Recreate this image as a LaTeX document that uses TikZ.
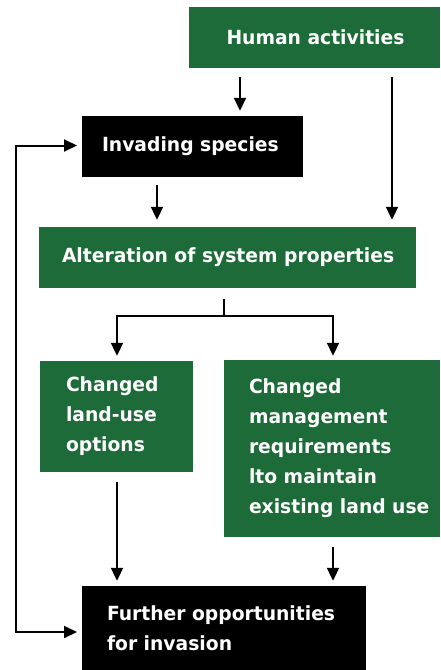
\documentclass[tikz,border=0pt]{standalone}
\usepackage{fontspec}
\setmainfont{DejaVu Sans}[FakeStretch=0.96]
\usetikzlibrary{arrows.meta}
\definecolor{boxgreen}{HTML}{1C6B38}
\tikzset{
  gbox/.style={fill=boxgreen, draw=none, inner sep=0pt, rectangle},
  kbox/.style={fill=black, draw=none, inner sep=0pt, rectangle},
  txt/.style={text=white, font=\fontsize{19.5}{30}\selectfont\bfseries, align=left, inner sep=0pt, anchor=west},
  arr/.style={line width=2pt, -{Triangle[length=13pt,width=12pt]}},
  link/.style={line width=2pt},
}
\begin{document}
\begin{tikzpicture}[x=1pt,y=-1pt]
\useasboundingbox (0,0) rectangle (440,670);
% boxes
\node[gbox, minimum width=251pt, minimum height=61pt] (human) at (314.5,37.5) {};
\node[kbox, minimum width=221pt, minimum height=61pt] (inv) at (192.5,146.5) {};
\node[gbox, minimum width=377pt, minimum height=61pt] (alt) at (227.5,257.5) {};
\node[gbox, minimum width=153pt, minimum height=111pt] (land) at (116.5,416.5) {};
\node[gbox, minimum width=216pt, minimum height=177pt] (mgmt) at (332,448.5) {};
\node[kbox, minimum width=284pt, minimum height=84pt] (fur) at (224,628) {};
% texts
\node[txt, anchor=center] (thuman) at ([xshift=1pt]human.center) {Human activities};
\node[txt] (tinv) at ([xshift=20pt]inv.west) {Invading species};
\node[txt] (talt) at ([xshift=23pt]alt.west) {Alteration of system properties};
\node[txt] (tland) at ([xshift=26pt]land.west) {Changed\\land-use\\options};
\node[txt] (tmgmt) at ([xshift=25pt]mgmt.west) {Changed\\management\\requirements\\lto maintain\\existing land use};
\node[txt] (tfur) at ([xshift=25pt]fur.west) {Further opportunities\\for invasion};
% connector columns
\coordinate (c1) at (240,0);
\coordinate (c2) at (392,0);
\coordinate (c3) at (157,0);
\coordinate (c4) at (117,0);
\coordinate (c5) at (333,0);
\coordinate (c6) at (224,0);
\coordinate (split) at (224,316);
\coordinate (loopb) at (16,632);
\coordinate (loopt) at (16,145.5);
\coordinate (furin) at (82,632);
\coordinate (invin) at (82,145.5);
\draw[arr, shorten <=9pt, shorten >=5pt] (c1 |- human.south) -- (c1 |- inv.north);
\draw[arr, shorten <=9pt, shorten >=7pt] (c2 |- human.south) -- (c2 |- alt.north);
\draw[arr, shorten <=8pt, shorten >=7pt] (c3 |- inv.south) -- (c3 |- alt.north);
\draw[link, shorten <=11pt] (c6 |- alt.south) -- (split);
\draw[arr, shorten >=5pt] (split) -| (c4 |- land.north);
\draw[arr, shorten >=4pt] (split) -| (c5 |- mgmt.north);
\draw[arr, shorten <=10pt, shorten >=5pt] (c4 |- land.south) -- (c4 |- fur.north);
\draw[arr, shorten <=10pt, shorten >=5pt] (c5 |- mgmt.south) -- (c5 |- fur.north);
\draw[link, {Triangle[length=13pt,width=12pt]}-{Triangle[length=13pt,width=12pt]}, shorten <=5pt, shorten >=5pt] (furin) -- (loopb) -- (loopt) -- (invin);
\end{tikzpicture}
\end{document}
